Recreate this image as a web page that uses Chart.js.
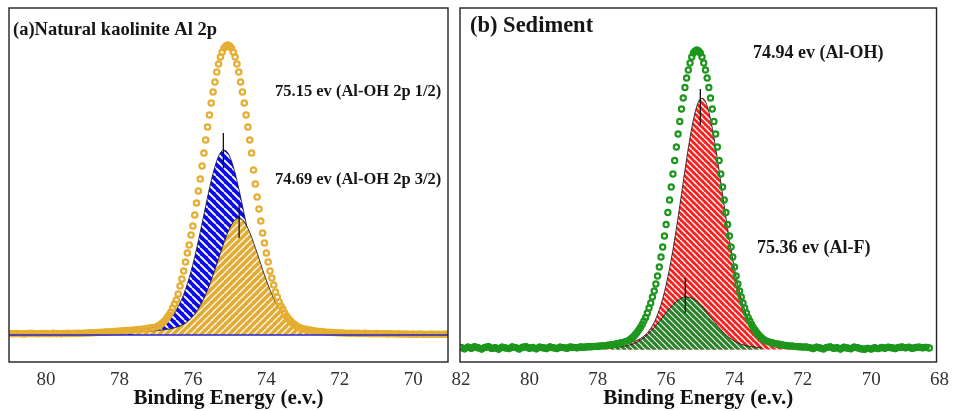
<!DOCTYPE html>
<html>
<head>
<meta charset="utf-8">
<script src="https://cdn.jsdelivr.net/npm/chart.js@4/dist/chart.umd.min.js"></script>
<style>
  html, body { margin: 0; padding: 0; background: #fff; }
  #wrap { position: relative; width: 956px; height: 411px; overflow: hidden; }
  canvas { position: absolute; top: 0; }
  #chartA { left: 0; }
  #chartB { left: 440px; }
</style>
</head>
<body>
<div id="wrap">
  <canvas id="chartA" width="455" height="411"></canvas>
  <canvas id="chartB" width="516" height="411"></canvas>
</div>
<script>
// ---- (a) natural kaolinite, Al 2p ----
const ticksA = [80, 78, 76, 74, 72, 70];

const energyA = [
  81.0, 80.9, 80.8, 80.7, 80.6, 80.5, 80.4, 80.3, 80.2, 80.1,
  80.0, 79.9, 79.8, 79.7, 79.6, 79.5, 79.4, 79.3, 79.2, 79.1,
  79.0, 78.9, 78.8, 78.7, 78.6, 78.5, 78.4, 78.3, 78.2, 78.1,
  78.0, 77.9, 77.8, 77.7, 77.6, 77.5, 77.4, 77.3, 77.2, 77.1,
  77.00, 76.95, 76.90, 76.85, 76.80, 76.75, 76.70, 76.65, 76.60, 76.55,
  76.50, 76.45, 76.40, 76.35, 76.30, 76.25, 76.20, 76.15, 76.10, 76.05,
  76.00, 75.95, 75.90, 75.85, 75.80, 75.75, 75.70, 75.65, 75.60, 75.55,
  75.50, 75.45, 75.40, 75.35, 75.30, 75.25, 75.20, 75.15, 75.10, 75.05,
  75.00, 74.95, 74.90, 74.85, 74.80, 74.75, 74.70, 74.65, 74.60, 74.55,
  74.50, 74.45, 74.40, 74.35, 74.30, 74.25, 74.20, 74.15, 74.10, 74.05,
  74.00, 73.95, 73.90, 73.85, 73.80, 73.75, 73.70, 73.65, 73.60, 73.55,
  73.50, 73.45, 73.40, 73.35, 73.30, 73.25, 73.20, 73.15, 73.10, 73.05,
  73.00,
  72.9, 72.8, 72.7, 72.6, 72.5, 72.4, 72.3, 72.2, 72.1, 72.0,
  71.9, 71.8, 71.7, 71.6, 71.5, 71.4, 71.3, 71.2, 71.1, 71.0,
  70.9, 70.8, 70.7, 70.6, 70.5, 70.4, 70.3, 70.2, 70.1, 70.0,
  69.9, 69.8, 69.7, 69.6, 69.5, 69.4, 69.3, 69.2, 69.1, 69.0
];
const countsA = [
  -0.6, -0.8, -0.5, -0.7, -0.9, -0.6, -0.4, -0.7, -0.8, -0.5,
  -0.6, -0.7, -0.4, -0.6, -0.7, -0.5, -0.4, -0.5, -0.4, -0.2,
  -0.2, 0.0, 0.1, 0.3, 0.5, 0.7, 0.9, 1.1, 1.3, 1.6,
  1.9, 2.1, 2.4, 2.7, 3.0, 3.4, 3.8, 4.3, 4.9, 5.5,
  6, 7, 8, 9.5, 11, 13, 15.5, 18, 21, 25,
  29, 33, 39, 47, 54, 62, 71, 80, 88, 98,
  107, 118, 130, 142, 154, 167, 180, 193, 206, 218,
  230, 241, 251, 261, 269, 276, 281, 285, 287, 288,
  287, 285, 281, 276, 269, 261, 251, 241, 230, 218,
  206, 193, 180, 163, 149, 136, 124, 112, 100, 90,
  80, 71, 62, 55, 48, 41, 36, 31, 27, 24,
  20, 17, 14.5, 12.5, 10.5, 9, 7.5, 6.5, 5.5, 4.8,
  4.2,
  3.6, 2.9, 2.3, 1.8, 1.4, 1.0, 0.7, 0.5, 0.3, 0.1,
  0.0, -0.2, -0.3, -0.2, -0.4, -0.5, -0.4, -0.6, -0.7, -0.6,
  -0.8, -0.7, -0.9, -0.8, -1.0, -0.9, -1.1, -1.0, -1.2, -1.1,
  -1.2, -1.0, -1.2, -1.3, -1.1, -1.2, -1.3, -1.2, -1.1, -1.2
];

// fitted component, Al-OH 2p 1/2 (blue)
const blueEnergy = [
  78.0, 77.9, 77.8, 77.7, 77.6, 77.5, 77.4, 77.3, 77.2, 77.1,
  77.0, 76.9, 76.8, 76.7, 76.6, 76.5, 76.4, 76.3, 76.2, 76.1,
  76.0, 75.9, 75.8, 75.7, 75.6, 75.5, 75.4, 75.3, 75.2, 75.1,
  75.0, 74.9, 74.8, 74.7, 74.6, 74.5, 74.4, 74.3, 74.2, 74.1,
  74.0, 73.9, 73.8, 73.7, 73.6, 73.5, 73.4, 73.3, 73.2, 73.1,
  73.0, 72.9, 72.8, 72.7, 72.6, 72.5, 72.4, 72.3
];
const blueFit = [
  1.6, 1.9, 2.2, 2.5, 2.9, 3.3, 3.8, 4.4, 5.0, 5.9,
  6.9, 8.3, 10.1, 12.6, 16.0, 20.6, 26.6, 34.2, 43.8, 55.3,
  68.8, 84.1, 100.9, 118.5, 136.0, 152.4, 166.4, 176.8, 182.3, 182.3,
  176.8, 166.4, 152.4, 136.0, 118.5, 100.9, 84.1, 68.8, 55.3, 43.8,
  34.2, 26.6, 20.6, 16.0, 12.6, 10.1, 8.3, 6.9, 5.9, 5.0,
  4.4, 3.8, 3.3, 2.9, 2.5, 2.2, 1.9, 1.6
];

// fitted component, Al-OH 2p 3/2 (orange)
const orangeEnergy = [
  77.6, 77.5, 77.4, 77.3, 77.2, 77.1, 77.0, 76.9, 76.8, 76.7,
  76.6, 76.5, 76.4, 76.3, 76.2, 76.1, 76.0, 75.9, 75.8, 75.7,
  75.6, 75.5, 75.4, 75.3, 75.2, 75.1, 75.0, 74.9, 74.8, 74.7,
  74.6, 74.5, 74.4, 74.3, 74.2, 74.1, 74.0, 73.9, 73.8, 73.7,
  73.6, 73.5, 73.4, 73.3, 73.2, 73.1, 73.0, 72.9, 72.8, 72.7,
  72.6, 72.5, 72.4, 72.3, 72.2, 72.1, 72.0, 71.9
];
const orangeFit = [
  1.0, 1.2, 1.4, 1.6, 1.8, 2.1, 2.4, 2.8, 3.3, 3.7,
  4.3, 5.2, 6.3, 7.9, 10.1, 13.0, 16.7, 21.5, 27.5, 34.7,
  43.2, 52.9, 63.4, 74.5, 85.4, 95.8, 104.6, 111.1, 114.5, 114.5,
  111.1, 104.6, 95.8, 85.4, 74.5, 63.4, 52.9, 43.2, 34.7, 27.5,
  21.5, 16.7, 13.0, 10.1, 7.9, 6.3, 5.2, 4.3, 3.7, 3.3,
  2.8, 2.4, 2.1, 1.8, 1.6, 1.4, 1.2, 1.0
];

const baseEnergyA = [81.0, 69.0];
const baseA = [-2, -2];
const markEnergyA = [75.17, 74.74];
const markLowA = [165, 95];
const markHighA = [200, 128];

// ---- (b) sediment ----
const ticksB = [82, 80, 78, 76, 74, 72, 70, 68];

const energyB = [
  82.0, 81.9, 81.8, 81.7, 81.6, 81.5, 81.4, 81.3, 81.2, 81.1,
  81.0, 80.9, 80.8, 80.7, 80.6, 80.5, 80.4, 80.3, 80.2, 80.1,
  80.0, 79.9, 79.8, 79.7, 79.6, 79.5, 79.4, 79.3, 79.2, 79.1,
  79.0, 78.9, 78.8, 78.7, 78.6, 78.5, 78.4, 78.3, 78.2, 78.1,
  78.0, 77.9, 77.8, 77.7, 77.6, 77.5, 77.4, 77.3, 77.2,
  77.10, 77.05, 77.00, 76.95, 76.90, 76.85, 76.80, 76.75, 76.70, 76.65,
  76.60, 76.55, 76.50, 76.45, 76.40, 76.35, 76.30, 76.25, 76.20, 76.15,
  76.10, 76.05, 76.00, 75.95, 75.90, 75.85, 75.80, 75.75, 75.70, 75.65,
  75.60, 75.55, 75.50, 75.45, 75.40, 75.35, 75.30, 75.25, 75.20, 75.15,
  75.10, 75.05, 75.00, 74.95, 74.90, 74.85, 74.80, 74.75, 74.70, 74.65,
  74.60, 74.55, 74.50, 74.45, 74.40, 74.35, 74.30, 74.25, 74.20, 74.15,
  74.10, 74.05, 74.00, 73.95, 73.90, 73.85, 73.80, 73.75, 73.70, 73.65,
  73.60, 73.55, 73.50, 73.45, 73.40, 73.35, 73.30, 73.25, 73.20, 73.15,
  73.10,
  73.0, 72.9, 72.8, 72.7, 72.6, 72.5, 72.4, 72.3, 72.2, 72.1,
  72.0, 71.9, 71.8, 71.7, 71.6, 71.5, 71.4, 71.3, 71.2, 71.1,
  71.0, 70.9, 70.8, 70.7, 70.6, 70.5, 70.4, 70.3, 70.2, 70.1,
  70.0, 69.9, 69.8, 69.7, 69.6, 69.5, 69.4, 69.3, 69.2, 69.1,
  69.0, 68.9, 68.8, 68.7, 68.6, 68.5, 68.4, 68.3
];
const countsB = [
  0.5, -0.8, 0.9, -0.3, 1.2, 0.2, -1.0, 0.6, 1.4, -0.4,
  0.3, -1.1, 0.8, 0.1, -0.6, 1.0, 0.4, -0.9, 0.7, 1.3,
  -0.2, 0.5, -0.7, 0.9, 0.2, -0.5, 1.1, 0.3, -0.6, 0.8,
  0.4, -0.3, 1.0, 0.6, 0.2, 1.1, 0.7, 1.3, 1.2, 1.6,
  1.7, 2.1, 2.3, 2.8, 3.2, 3.8, 4.5, 5.3, 6.3,
  7.5, 8.5, 10, 11.5, 13.5, 15.5, 18, 20.5, 23.5, 27,
  30.5, 35, 40, 45, 51, 57, 64, 72, 81, 91,
  101, 112, 123.5, 135.5, 148, 161, 174, 187.5, 201, 214,
  226.5, 239, 250, 260.5, 270, 278, 285, 291, 295, 297,
  298, 297, 295, 291, 285, 278, 270, 260.5, 250, 239,
  226.5, 214, 201, 187.5, 174, 161, 148, 135.5, 123.5, 112,
  101, 91, 81, 72, 64, 57, 51, 45, 40, 35,
  30.5, 27, 23.5, 20.5, 18, 15.5, 13.5, 11.5, 10, 8.5,
  7.5,
  6.2, 5.2, 4.3, 3.7, 3.0, 2.6, 2.1, 1.9, 1.4, 1.3,
  0.9, 1.0, 0.4, -0.5, 0.8, 0.1, -0.9, 0.6, 1.1, -0.3,
  0.2, -1.0, 0.7, 0.0, -0.7, 0.9, 0.3, -0.8, -1.2, -0.4,
  -1.0, 0.2, -0.6, 0.5, -0.2, 0.8, 0.3, -0.5, 0.6, 1.0,
  0.2, 0.7, -0.3, 0.5, 0.9, 0.2, 0.6, 0.0
];

// fitted component, Al-OH (red)
const redEnergy = [
  77.8, 77.7, 77.6, 77.5, 77.4, 77.3, 77.2, 77.1, 77.0, 76.9,
  76.8, 76.7, 76.6, 76.5, 76.4, 76.3, 76.2, 76.1, 76.0, 75.9,
  75.8, 75.7, 75.6, 75.5, 75.4, 75.3, 75.2, 75.1, 75.0, 74.9,
  74.8, 74.7, 74.6, 74.5, 74.4, 74.3, 74.2, 74.1, 74.0, 73.9,
  73.8, 73.7, 73.6, 73.5, 73.4, 73.3, 73.2, 73.1, 73.0, 72.9,
  72.8, 72.7, 72.6, 72.5, 72.4, 72.3, 72.2, 72.1
];
const redFit = [
  0.4, 0.8, 1.2, 1.7, 2.3, 3.0, 3.8, 4.8, 6.1, 7.1,
  8.6, 10.6, 13.4, 17.3, 22.4, 29.3, 38.2, 49.3, 63.1, 79.4,
  98.4, 119.5, 142.3, 165.9, 189.1, 210.5, 228.7, 242.0, 249.1, 249.1,
  242.0, 228.7, 210.5, 189.1, 165.9, 142.3, 119.5, 98.4, 79.4, 63.1,
  49.3, 38.2, 29.3, 22.4, 17.3, 13.4, 10.6, 8.6, 7.1, 6.1,
  4.8, 3.8, 3.0, 2.3, 1.7, 1.2, 0.8, 0.4
];

// fitted component, Al-F (green)
const greenEnergy = [
  77.6, 77.5, 77.4, 77.3, 77.2, 77.1, 77.0, 76.9, 76.8, 76.7,
  76.6, 76.5, 76.4, 76.3, 76.2, 76.1, 76.0, 75.9, 75.8, 75.7,
  75.6, 75.5, 75.4, 75.3, 75.2, 75.1, 75.0, 74.9, 74.8, 74.7,
  74.6, 74.5, 74.4, 74.3, 74.2, 74.1, 74.0, 73.9, 73.8, 73.7,
  73.6, 73.5, 73.4, 73.3, 73.2
];
const greenFit = [
  0.4, 0.6, 0.9, 1.3, 1.9, 2.7, 3.7, 5.1, 6.9, 9.1,
  11.7, 14.8, 18.4, 22.3, 26.5, 30.9, 35.3, 39.5, 43.3, 46.5,
  49.0, 50.5, 51, 50.5, 49.0, 46.5, 43.3, 39.5, 35.3, 30.9,
  26.5, 22.3, 18.4, 14.8, 11.7, 9.1, 6.9, 5.1, 3.7, 2.7,
  1.9, 1.3, 0.9, 0.6, 0.4
];

const markEnergyB = [75.0, 75.44];
const markLowB = [223, 35];
const markHighB = [259, 70];

// --------------------------------------------------------------

const serif = '"Liberation Serif", "Times New Roman", serif';
Chart.defaults.font.family = serif;

const zip = (xs, ys) => xs.map((x, i) => ({ x: x, y: ys[i] }));

// diagonal white hatching over a solid colour
const hatch = (bg, size, width, dir) => {
  const c = document.createElement('canvas');
  c.width = c.height = size;
  const g = c.getContext('2d');
  g.fillStyle = bg;
  g.fillRect(0, 0, size, size);
  g.strokeStyle = 'rgba(255,255,255,0.95)';
  g.lineWidth = width;
  g.beginPath();
  for (const k of [-size, 0, size]) {
    if (dir === 'down') {
      g.moveTo(k, 0); g.lineTo(k + size, size);
    } else {
      g.moveTo(k, size); g.lineTo(k + size, 0);
    }
  }
  g.stroke();
  return g.createPattern(c, 'repeat');
};

const framePlugin = {
  id: 'frame',
  afterDraw: chart => {
    const { left, top, right, bottom } = chart.chartArea;
    const ctx = chart.ctx;
    ctx.save();
    ctx.strokeStyle = '#222';
    ctx.lineWidth = 1.4;
    ctx.strokeRect(left, top, right - left, bottom - top);
    ctx.restore();
  }
};

const notesPlugin = {
  id: 'notes',
  afterDraw: (chart, args, opts) => {
    const ctx = chart.ctx;
    const { left, top } = chart.chartArea;
    ctx.save();
    ctx.fillStyle = '#161616';
    ctx.textBaseline = 'alphabetic';
    ctx.textAlign = 'left';
    (opts.items || []).forEach(n => {
      ctx.font = 'bold ' + n.size + 'px ' + serif;
      ctx.fillText(n.text, left + n.dx, top + n.dy);
    });
    ctx.restore();
  }
};

const markerSets = (xs, lows, highs) => xs.map((x, i) => ({
  data: [{ x: x, y: lows[i] }, { x: x, y: highs[i] }],
  borderColor: '#111',
  borderWidth: 1.3,
  pointRadius: 0,
  fill: false
}));

// open circles; where the signal sits on the background the circles
// merge into a solid band, so a thick line joins them there
const circles = (data, color, r, bw, band, flat) => ({
  data: data,
  showLine: true,
  borderColor: color,
  borderWidth: band,
  segment: {
    borderColor: ctx => (ctx.p0.parsed.y < flat && ctx.p1.parsed.y < flat) ? color : 'rgba(0,0,0,0)'
  },
  pointStyle: 'circle',
  pointRadius: r,
  pointBorderWidth: bw,
  pointBorderColor: color,
  pointBackgroundColor: 'rgba(0,0,0,0)',
  fill: false
});

const component = (data, pattern, base) => ({
  data: data,
  borderColor: '#111',
  borderWidth: 0.8,
  backgroundColor: pattern,
  fill: { value: base },
  pointRadius: 0,
  tension: 0.35
});

const makeChart = (id, cfg) => new Chart(document.getElementById(id), {
  type: 'line',
  data: { datasets: cfg.datasets },
  options: {
    responsive: false,
    animation: false,
    events: [],
    layout: { padding: cfg.padding },
    plugins: {
      legend: { display: false },
      tooltip: { enabled: false },
      notes: { items: cfg.notes }
    },
    scales: {
      x: {
        type: 'linear',
        reverse: true,
        min: cfg.xMin,
        max: cfg.xMax,
        grid: { display: false, drawTicks: false },
        border: { display: false },
        ticks: { color: '#333', font: { size: 19 }, padding: 7 },
        title: {
          display: true,
          text: 'Binding Energy (e.v.)',
          color: '#111',
          font: { size: 21, weight: 'bold' },
          padding: { top: 0, bottom: 0 }
        },
        afterBuildTicks: s => { s.ticks = cfg.ticks.map(v => ({ value: v })); },
        afterFit: s => { s.height = 49; }
      },
      y: { display: false, min: cfg.yMin, max: cfg.yMax }
    }
  },
  plugins: [framePlugin, notesPlugin]
});

makeChart('chartA', {
  xMin: 69.05, xMax: 81.01, yMin: -29, yMax: 325,
  ticks: ticksA,
  padding: { left: 9, right: 7, top: 8, bottom: 0 },
  notes: [
    { text: '(a)Natural kaolinite Al 2p', size: 18.5, dx: 4, dy: 27 },
    { text: '75.15 ev (Al-OH 2p 1/2)', size: 16.5, dx: 266, dy: 87.5 },
    { text: '74.69 ev (Al-OH 2p 3/2)', size: 16.5, dx: 266, dy: 176 }
  ],
  datasets: [
    ...markerSets(markEnergyA, markLowA, markHighA),
    { data: zip(baseEnergyA, baseA), borderColor: '#2424c8', borderWidth: 1.6, pointRadius: 0, fill: false },
    circles(zip(energyA, countsA), '#e5ae32', 2.7, 2.2, 6, 4),
    component(zip(orangeEnergy, orangeFit), hatch('#e2ab36', 7, 1.3, 'up'), -2),
    component(zip(blueEnergy, blueFit), hatch('#0808f2', 8, 2, 'down'), -2)
  ]
});

makeChart('chartB', {
  xMin: 68.09, xMax: 82.03, yMin: -14, yMax: 340,
  ticks: ticksB,
  padding: { left: 20, right: 14, top: 8, bottom: 0 },
  notes: [
    { text: '(b) Sediment', size: 22.5, dx: 10, dy: 24 },
    { text: '74.94 ev (Al-OH)', size: 18, dx: 293, dy: 50 },
    { text: '75.36 ev (Al-F)', size: 18, dx: 297, dy: 245 }
  ],
  datasets: [
    ...markerSets(markEnergyB, markLowB, markHighB),
    circles(zip(energyB, countsB), '#1c961c', 2.6, 2.2, 7, 6),
    component(zip(greenEnergy, greenFit), hatch('#2a822a', 6, 1.2, 'down'), -1.5),
    component(zip(redEnergy, redFit), hatch('#f52222', 6, 1.5, 'down'), -1.5)
  ]
});
</script>
</body>
</html>
